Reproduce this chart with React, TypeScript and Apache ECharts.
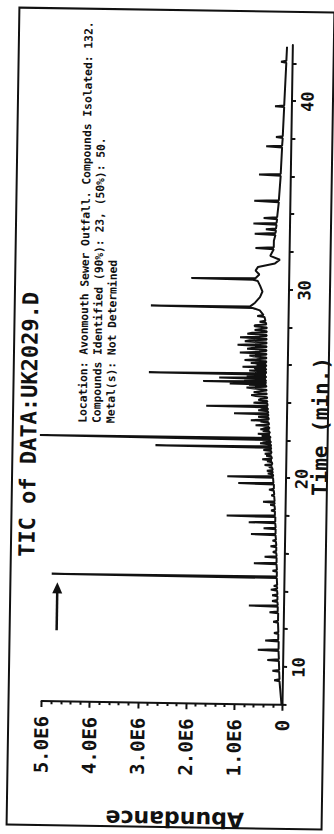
import React, { useEffect, useRef } from 'react';
import * as echarts from 'echarts';

// ---- text ----
const TITLE = 'TIC of DATA:UK2029.D';
const INFO_LINES = [
  'Location: Avonmouth Sewer Outfall. Compounds Isolated: 132.',
  'Compounds Identified (90%): 23, (50%): 50.',
  'Metal(s): Not Determined',
];
const X_NAME = 'Time (min.)';
const Y_NAME = 'Abundance';

// ---- axes ----
const TIME_MIN = 8;
const TIME_MAX = 43;
const TIME_TICK = 2;
const TIME_LABEL_EVERY = 10;
const ABUND_MIN = 0;
const ABUND_MAX = 5; // x 1E6
const ABUND_TICK = 1;

// ---- trace: [time (min), abundance (x 1E6)] ----
const trace: [number, number][] = [
  [8.0, 0.02], [8.5, 0.04], [9.0, 0.06], [9.25, 0.07], [9.3, 0.18], [9.35, 0.07],
  [9.75, 0.08], [9.8, 0.22], [9.85, 0.08],
  [10.32, 0.09], [10.37, 0.33], [10.42, 0.09],
  [10.85, 0.1], [10.9, 0.53], [10.95, 0.1],
  [11.35, 0.1], [11.4, 0.38], [11.45, 0.11],
  [11.75, 0.11], [11.8, 0.2], [11.85, 0.11],
  [12.35, 0.12], [12.4, 0.22], [12.45, 0.12],
  [12.85, 0.12], [12.9, 0.3], [12.95, 0.13],
  [13.2, 0.13], [13.24, 0.73], [13.28, 0.13],
  [13.45, 0.14], [13.5, 0.25], [13.55, 0.14],
  [13.75, 0.14], [13.8, 0.25], [13.85, 0.14],
  [14.05, 0.15], [14.1, 0.28], [14.15, 0.15],
  [14.25, 0.15], [14.3, 0.22], [14.35, 0.15],
  [14.72, 0.16], [14.76, 4.83], [14.8, 0.16],
  [15.05, 0.16], [15.1, 0.25], [15.15, 0.16],
  [15.45, 0.17], [15.49, 0.64], [15.53, 0.17],
  [15.8, 0.17], [15.84, 0.42], [15.88, 0.17],
  [16.05, 0.18], [16.1, 0.25], [16.15, 0.18],
  [16.35, 0.18], [16.4, 0.3], [16.45, 0.18],
  [16.65, 0.19], [16.7, 0.26], [16.75, 0.19],
  [16.99, 0.2], [17.03, 0.71], [17.07, 0.2],
  [17.31, 0.2], [17.35, 0.45], [17.39, 0.2],
  [17.62, 0.21], [17.66, 0.76], [17.7, 0.21],
  [17.95, 0.21], [17.99, 1.22], [18.03, 0.22],
  [18.25, 0.22], [18.3, 0.3], [18.35, 0.22],
  [18.55, 0.23], [18.6, 0.32], [18.65, 0.23], [18.71, 0.23], [18.75, 0.47], [18.79, 0.23],
  [19.05, 0.24], [19.1, 0.3], [19.15, 0.24],
  [19.35, 0.25], [19.4, 0.35], [19.45, 0.25],
  [19.68, 0.25], [19.72, 0.99], [19.76, 0.26],
  [20.03, 0.27], [20.07, 1.22], [20.11, 0.27],
  [20.2, 0.27], [20.25, 0.38], [20.3, 0.28],
  [20.35, 0.28], [20.4, 0.4], [20.45, 0.28],
  [20.55, 0.29], [20.6, 0.36], [20.65, 0.29],
  [20.7, 0.45], [20.75, 0.29],
  [20.85, 0.3], [20.9, 0.4], [20.95, 0.3],
  [21.0, 0.5], [21.05, 0.3],
  [21.15, 0.31], [21.2, 0.42], [21.25, 0.31],
  [21.3, 0.45], [21.35, 0.31], [21.45, 0.32], [21.5, 0.48], [21.55, 0.32],
  [21.62, 0.32], [21.66, 2.72], [21.7, 0.32],
  [21.8, 0.33], [21.85, 0.55], [21.9, 0.33],
  [21.96, 0.33], [22.0, 0.5], [22.03, 0.33],
  [22.06, 0.33], [22.1, 5.12], [22.14, 0.34],
  [22.2, 0.34], [22.25, 0.52], [22.3, 0.35],
  [22.35, 0.6], [22.4, 0.35],
  [22.47, 0.36], [22.5, 0.5], [22.55, 0.36],
  [22.6, 0.55], [22.65, 0.36],
  [22.7, 0.37], [22.75, 0.5], [22.78, 0.37],
  [22.8, 0.65], [22.85, 0.37],
  [22.95, 0.38], [23.0, 0.55], [23.03, 0.38],
  [23.07, 0.75], [23.12, 0.38],
  [23.2, 0.38], [23.25, 0.6], [23.3, 0.39],
  [23.38, 0.39], [23.42, 1.1], [23.46, 0.39],
  [23.55, 0.4], [23.6, 0.6], [23.65, 0.4],
  [23.7, 0.4], [23.73, 0.55], [23.76, 0.4],
  [23.8, 1.68], [23.84, 0.41],
  [23.95, 0.41], [24.0, 0.7], [24.05, 0.41],
  [24.1, 0.42], [24.15, 0.6], [24.2, 0.55], [24.25, 0.42],
  [24.3, 0.42], [24.35, 0.65], [24.4, 0.75], [24.45, 0.43],
  [24.5, 0.43], [24.55, 0.7], [24.6, 0.6], [24.65, 0.43],
  [24.7, 0.44], [24.75, 0.7], [24.8, 0.85], [24.85, 0.44],
  [24.9, 0.44], [24.93, 0.8], [24.96, 0.44], [25.0, 1.2], [25.04, 0.45],
  [25.08, 0.45], [25.1, 1.75], [25.14, 0.45],
  [25.2, 0.45], [25.23, 0.9], [25.26, 0.45], [25.3, 1.42], [25.34, 0.45],
  [25.4, 0.45], [25.44, 0.85], [25.49, 0.45], [25.53, 2.88], [25.57, 0.45],
  [25.65, 0.45], [25.7, 0.8], [25.75, 0.45],
  [25.8, 0.45], [25.83, 0.7], [25.86, 0.45], [25.9, 0.94], [25.94, 0.45],
  [26.0, 0.45], [26.03, 0.65], [26.06, 0.45], [26.1, 0.77], [26.14, 0.45],
  [26.2, 0.45], [26.25, 0.9], [26.3, 0.65], [26.35, 0.45],
  [26.4, 0.45], [26.45, 0.7], [26.5, 0.8], [26.55, 0.45],
  [26.6, 0.45], [26.65, 1.0], [26.7, 0.6], [26.75, 0.45],
  [26.8, 0.45], [26.85, 0.85], [26.9, 0.75], [26.95, 0.45],
  [27.0, 0.45], [27.05, 1.05], [27.1, 0.65], [27.15, 0.45],
  [27.2, 0.45], [27.25, 0.9], [27.3, 0.8], [27.35, 0.45],
  [27.4, 0.45], [27.45, 1.0], [27.5, 0.6], [27.55, 0.45],
  [27.6, 0.45], [27.65, 0.85], [27.7, 0.75], [27.75, 0.45],
  [27.8, 0.45], [27.85, 0.7], [27.9, 0.6], [27.95, 0.45],
  [28.0, 0.45], [28.05, 0.7], [28.1, 0.7], [28.15, 0.46],
  [28.25, 0.47], [28.3, 0.6], [28.35, 0.48],
  [28.55, 0.5], [28.6, 0.65], [28.65, 0.52],
  [28.9, 0.6], [29.02, 0.75], [29.06, 2.86], [29.1, 0.8], [29.3, 0.7], [29.6, 0.6],
  [29.9, 0.55], [30.2, 0.6], [30.45, 0.65], [30.52, 0.75], [30.56, 2.03], [30.6, 0.7],
  [30.8, 0.62], [31.0, 0.7], [31.2, 0.65], [31.4, 0.3], [31.6, 0.2], [31.8, 0.4],
  [32.15, 0.33], [32.2, 0.71], [32.25, 0.33], [32.6, 0.33],
  [32.91, 0.3], [32.96, 0.73], [33.01, 0.3],
  [33.15, 0.29], [33.2, 0.5], [33.25, 0.29],
  [33.45, 0.28], [33.5, 0.76], [33.55, 0.28],
  [33.75, 0.27], [33.8, 0.55], [33.85, 0.27],
  [34.65, 0.24], [34.7, 0.75], [34.75, 0.24],
  [36.05, 0.21], [36.1, 0.66], [36.15, 0.21],
  [37.55, 0.19], [37.6, 0.52], [37.65, 0.19],
  [38.05, 0.18], [38.1, 0.32], [38.15, 0.18],
  [39.7, 0.16], [39.74, 0.35], [39.78, 0.16],
  [42.05, 0.13], [42.1, 0.24], [42.15, 0.13],
  [42.9, 0.12],
];

const MONO = '"DejaVu Sans Mono", monospace';
const W = 834;
const H = 334;

export default function App() {
  const ref = useRef<HTMLDivElement>(null);

  useEffect(() => {
    if (!ref.current) return;
    const chart = echarts.init(ref.current, null, { renderer: 'svg' });
    chart.setOption({
      animation: false,
      backgroundColor: '#ffffff',
      grid: { left: 131, right: 43, top: 46, bottom: 47, containLabel: false },
      xAxis: {
        type: 'value',
        min: TIME_MIN,
        max: TIME_MAX,
        interval: TIME_TICK,
        axisLine: { show: true, lineStyle: { color: '#111', width: 2 } },
        axisTick: { show: true, length: 4, lineStyle: { color: '#111', width: 2 } },
        axisLabel: {
          show: true,
          margin: 7,
          color: '#111',
          fontFamily: MONO,
          fontWeight: 'bold',
          fontSize: 17,
          showMaxLabel: false,
          formatter: (v: number) => (v % TIME_LABEL_EVERY === 0 ? String(v) : ''),
        },
        splitLine: { show: false },
      },
      yAxis: {
        type: 'value',
        min: ABUND_MIN,
        max: ABUND_MAX,
        interval: ABUND_TICK,
        axisLine: { show: true, lineStyle: { color: '#111', width: 2 } },
        axisTick: { show: true, length: 6, lineStyle: { color: '#111', width: 2 } },
        minorTick: { show: true, splitNumber: 5, length: 3, lineStyle: { color: '#111', width: 2 } },
        axisLabel: {
          margin: 15,
          color: '#111',
          fontFamily: MONO,
          fontWeight: 'bold',
          fontSize: 19,
          formatter: (v: number) => (v === 0 ? '0' : v.toFixed(1) + 'E6'),
        },
        splitLine: { show: false },
      },
      series: [
        {
          type: 'line',
          data: trace,
          showSymbol: false,
          symbol: 'none',
          clip: false,
          lineStyle: { color: '#111', width: 2 },
        },
      ],
      graphic: [
        {
          type: 'rect',
          shape: { x: 7, y: 13, width: 817, height: 315 },
          style: { fill: 'none', stroke: '#111', lineWidth: 2 },
        },
        {
          type: 'text',
          x: 275,
          y: 29,
          style: {
            text: TITLE,
            fill: '#111',
            font: `bold 22px ${MONO}`,
            verticalAlign: 'middle',
            align: 'left',
          },
        },
        ...INFO_LINES.map((t, i) => ({
          type: 'text',
          x: 410,
          y: 83 + i * 14,
          style: {
            text: t,
            fill: '#111',
            font: `bold 11.3px ${MONO}`,
            verticalAlign: 'middle',
            align: 'left',
          },
        })),
        {
          type: 'text',
          x: 410,
          y: 321,
          style: {
            text: X_NAME,
            fill: '#111',
            font: `bold 21px ${MONO}`,
            verticalAlign: 'middle',
            align: 'center',
          },
        },
        {
          type: 'text',
          x: 15,
          y: 181,
          rotation: Math.PI / 2,
          style: {
            text: Y_NAME,
            fill: '#111',
            font: 'bold 22px "DejaVu Sans", sans-serif',
            verticalAlign: 'middle',
            align: 'center',
          },
        },
        {
          type: 'line',
          shape: { x1: 202, y1: 60, x2: 242, y2: 60 },
          style: { stroke: '#111', lineWidth: 2.5 },
        },
        {
          type: 'polygon',
          shape: { points: [[250, 60], [239, 55], [239, 65]] },
          style: { fill: '#111' },
        },
      ],
    });
    return () => chart.dispose();
  }, []);

  return (
    <div
      style={{
        position: 'fixed',
        left: 0,
        top: 0,
        width: 334,
        height: 834,
        overflow: 'hidden',
        background: '#ffffff',
      }}
    >
      <div
        ref={ref}
        style={{
          position: 'absolute',
          width: W,
          height: H,
          left: 167 - W / 2,
          top: 417 - H / 2,
          transformOrigin: '50% 50%',
          transform: 'rotate(-89.1deg)',
        }}
      />
    </div>
  );
}
